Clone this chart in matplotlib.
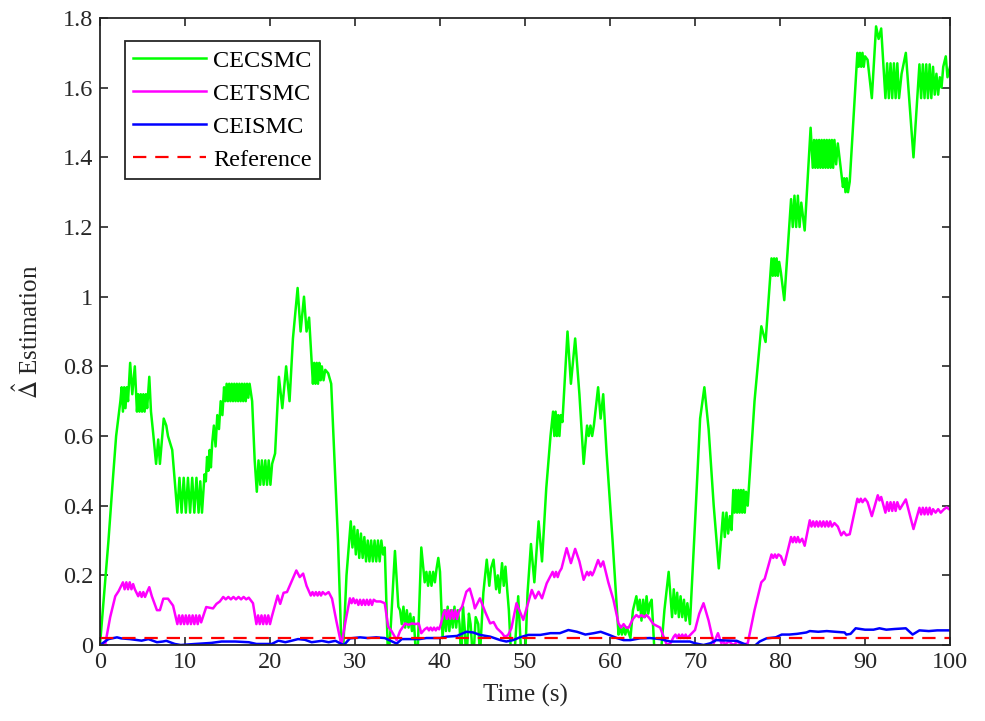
import matplotlib
matplotlib.use("Agg")
import matplotlib.pyplot as plt

plt.rcParams['font.family'] = ['Liberation Serif', 'DejaVu Serif']
plt.rcParams['mathtext.fontset'] = 'stix'

# (time, value)
cecsmc = [
    (0, 0), (0.5, 0.15), (1.0, 0.30), (1.5, 0.47), (1.9, 0.60), (2.2, 0.66), (2.4, 0.70),
    (2.55, 0.74), (2.7, 0.67), (2.85, 0.74), (3.0, 0.68), (3.15, 0.74), (3.3, 0.70),
    (3.55, 0.81), (3.8, 0.72), (4.1, 0.80), (4.35, 0.67),
    (4.5, 0.72), (4.65, 0.67), (4.8, 0.72), (4.95, 0.67), (5.1, 0.72), (5.25, 0.67), (5.4, 0.72), (5.55, 0.68),
    (5.8, 0.77), (6.0, 0.67), (6.25, 0.61), (6.6, 0.52), (6.85, 0.59), (7.05, 0.52), (7.5, 0.65),
    (7.8, 0.63), (8.0, 0.60), (8.5, 0.56), (8.8, 0.47), (9.1, 0.38),
    (9.35, 0.48), (9.6, 0.38), (9.85, 0.48), (10.1, 0.38), (10.35, 0.48), (10.6, 0.38), (10.85, 0.48),
    (11.1, 0.38), (11.35, 0.48), (11.6, 0.38), (11.8, 0.47), (12.0, 0.38),
    (12.3, 0.49), (12.45, 0.47), (12.6, 0.54), (12.75, 0.50), (12.9, 0.56), (13.05, 0.51), (13.2, 0.58),
    (13.4, 0.63), (13.6, 0.57), (13.8, 0.66), (14.0, 0.62), (14.2, 0.70), (14.4, 0.66), (14.6, 0.74),
    (14.75, 0.70), (14.9, 0.75), (15.05, 0.70), (15.2, 0.75), (15.35, 0.70), (15.5, 0.75), (15.65, 0.70),
    (15.8, 0.75), (15.95, 0.70), (16.1, 0.75), (16.25, 0.70), (16.4, 0.75), (16.55, 0.70), (16.7, 0.75),
    (16.85, 0.70), (17.0, 0.75), (17.15, 0.70), (17.3, 0.75), (17.45, 0.71), (17.6, 0.75),
    (17.9, 0.70), (18.2, 0.53), (18.45, 0.44),
    (18.65, 0.53), (18.85, 0.46), (19.05, 0.53), (19.25, 0.46), (19.45, 0.53), (19.65, 0.46),
    (19.85, 0.53), (20.05, 0.46), (20.25, 0.52),
    (20.6, 0.55), (21.05, 0.77), (21.45, 0.68), (21.9, 0.80), (22.3, 0.70), (22.7, 0.88),
    (23.25, 1.025), (23.6, 0.90), (24.0, 1.00), (24.3, 0.90), (24.6, 0.94), (25.05, 0.75),
    (25.2, 0.81), (25.35, 0.75), (25.5, 0.81), (25.65, 0.75), (25.8, 0.81), (25.95, 0.76),
    (26.1, 0.80), (26.3, 0.76), (26.5, 0.79), (26.85, 0.78), (27.2, 0.75),
    (28.0, 0.30), (28.4, 0.0), (28.6, -0.02), (29.0, 0.20), (29.5, 0.355),
    (29.7, 0.28), (29.9, 0.34), (30.1, 0.26), (30.3, 0.33), (30.5, 0.25), (30.7, 0.32), (30.9, 0.25),
    (31.1, 0.31), (31.3, 0.24), (31.5, 0.30), (31.7, 0.24), (31.9, 0.30), (32.1, 0.24), (32.3, 0.30),
    (32.5, 0.24), (32.7, 0.30), (32.9, 0.24), (33.1, 0.30), (33.3, 0.26), (33.5, 0.28),
    (33.9, -0.05), (34.2, 0.05), (34.7, 0.27), (35.1, 0.11), (35.3, 0.10), (35.5, 0.06), (35.7, 0.11),
    (35.9, 0.05), (36.1, 0.10), (36.3, 0.05), (36.5, 0.09), (36.7, 0.04), (36.9, 0.08), (37.1, 0.0),
    (37.4, 0.0), (37.8, 0.28), (38.2, 0.18), (38.4, 0.21), (38.6, 0.17), (38.8, 0.21), (39.0, 0.17),
    (39.2, 0.21), (39.4, 0.18), (39.6, 0.22), (39.8, 0.25), (40.0, 0.21), (40.3, 0.02),
    (40.5, 0.10), (40.7, 0.04), (40.9, 0.11), (41.1, 0.04), (41.3, 0.10), (41.5, 0.05), (41.7, 0.11),
    (41.9, 0.05), (42.1, 0.10), (42.3, 0.06), (42.5, -0.05), (42.7, 0.11), (42.9, 0.05), (43.1, -0.05),
    (43.4, 0.09), (43.6, 0.06), (43.9, -0.05), (44.2, 0.08), (44.5, 0.06), (44.7, -0.03),
    (45.1, 0.15), (45.5, 0.245), (45.8, 0.17), (46.0, 0.22), (46.3, 0.245), (46.6, 0.16), (46.8, 0.20),
    (47.0, 0.15), (47.3, 0.235), (47.5, 0.17), (47.7, 0.225), (47.9, 0.16), (48.1, 0.10),
    (48.4, -0.05), (48.7, -0.05), (49.2, 0.14), (49.6, -0.05), (50.0, -0.05), (50.3, 0.15),
    (50.7, 0.29), (51.1, 0.18), (51.6, 0.355), (52.0, 0.24), (52.5, 0.45), (53.0, 0.60),
    (53.3, 0.67), (53.45, 0.60), (53.6, 0.67), (53.75, 0.60), (53.9, 0.66), (54.05, 0.60), (54.2, 0.66),
    (54.4, 0.64), (55.0, 0.90), (55.4, 0.75), (55.9, 0.88), (56.4, 0.72), (56.9, 0.52), (57.3, 0.63),
    (57.5, 0.60), (57.7, 0.63), (57.9, 0.60), (58.1, 0.63), (58.6, 0.74), (58.9, 0.65), (59.2, 0.72),
    (59.6, 0.55), (60.3, 0.30), (61.0, 0.03), (61.2, 0.05), (61.4, 0.03), (61.6, 0.05), (61.8, 0.03),
    (62.0, 0.05), (62.4, 0.02), (62.7, 0.10), (63.1, 0.14), (63.3, 0.10), (63.5, 0.13), (63.7, 0.07),
    (63.9, 0.13), (64.1, 0.08), (64.3, 0.14), (64.5, 0.09), (64.7, 0.12), (64.9, 0.13),
    (65.3, -0.05), (65.9, -0.05), (66.4, 0.10), (66.9, 0.21), (67.3, 0.08), (67.5, 0.16),
    (67.7, 0.09), (67.9, 0.15), (68.1, 0.08), (68.3, 0.14), (68.5, 0.08), (68.7, 0.13), (68.9, 0.07),
    (69.1, 0.12), (69.4, 0.06), (70.0, 0.35), (70.6, 0.65), (71.1, 0.74), (71.6, 0.62), (72.2, 0.40),
    (72.8, 0.22), (73.3, 0.38), (73.5, 0.31), (73.7, 0.38), (73.9, 0.32), (74.1, 0.37), (74.3, 0.33),
    (74.5, 0.445), (74.65, 0.38), (74.8, 0.445), (74.95, 0.38), (75.1, 0.445), (75.25, 0.38),
    (75.4, 0.445), (75.55, 0.38), (75.7, 0.445), (75.85, 0.38), (76.0, 0.44), (76.2, 0.40),
    (77.0, 0.70), (77.8, 0.915), (78.3, 0.87), (79.0, 1.11), (79.15, 1.06), (79.3, 1.11), (79.45, 1.06),
    (79.6, 1.11), (79.75, 1.06), (79.9, 1.10), (80.1, 1.07), (80.5, 0.99), (81.3, 1.28), (81.5, 1.20),
    (81.7, 1.29), (81.9, 1.20), (82.1, 1.29), (82.3, 1.20), (82.5, 1.27), (82.9, 1.19), (83.6, 1.485),
    (83.85, 1.37), (84.0, 1.45), (84.15, 1.37), (84.3, 1.45), (84.45, 1.37), (84.6, 1.45), (84.75, 1.37),
    (84.9, 1.45), (85.05, 1.37), (85.2, 1.45), (85.35, 1.37), (85.5, 1.45), (85.65, 1.37), (85.8, 1.45),
    (85.95, 1.37), (86.1, 1.45), (86.25, 1.37), (86.4, 1.45), (86.6, 1.38), (86.8, 1.44),
    (87.4, 1.315), (87.55, 1.34), (87.7, 1.30), (87.85, 1.34), (88.0, 1.30), (88.2, 1.33),
    (89.1, 1.70), (89.25, 1.66), (89.4, 1.70), (89.55, 1.66), (89.7, 1.70), (89.85, 1.66), (90.0, 1.69),
    (90.3, 1.68), (90.8, 1.57), (91.3, 1.776), (91.6, 1.74), (91.9, 1.77), (92.4, 1.57), (92.6, 1.67),
    (92.8, 1.57), (93.0, 1.67), (93.2, 1.57), (93.4, 1.67), (93.6, 1.57), (93.8, 1.67), (94.0, 1.57),
    (94.3, 1.64), (94.8, 1.70), (95.7, 1.40), (96.4, 1.667), (96.6, 1.57), (96.8, 1.667), (97.0, 1.57),
    (97.2, 1.667), (97.4, 1.57), (97.6, 1.667), (97.8, 1.57), (98.0, 1.66), (98.2, 1.58), (98.4, 1.64),
    (98.6, 1.58), (98.8, 1.63), (99.0, 1.60), (99.2, 1.66), (99.5, 1.69), (99.7, 1.63), (100, 1.66),
]

cetsmc = [
    (0, 0), (0.6, 0.0), (1.2, 0.08), (1.8, 0.14), (2.2, 0.155), (2.5, 0.17), (2.7, 0.18), (2.9, 0.16),
    (3.1, 0.18), (3.3, 0.16), (3.5, 0.18), (3.7, 0.16), (3.9, 0.175), (4.1, 0.16), (4.3, 0.15),
    (4.5, 0.14), (4.7, 0.152), (4.9, 0.138), (5.1, 0.152), (5.3, 0.138), (5.5, 0.15), (5.8, 0.166),
    (6.1, 0.14), (6.4, 0.12), (6.7, 0.10), (7.05, 0.10), (7.45, 0.133), (8.0, 0.133), (8.6, 0.113),
    (9.1, 0.06), (9.3, 0.085), (9.5, 0.06), (9.7, 0.085), (9.9, 0.06), (10.1, 0.085), (10.3, 0.06),
    (10.5, 0.085), (10.7, 0.06), (10.9, 0.085), (11.1, 0.06), (11.3, 0.085), (11.5, 0.06), (11.7, 0.085),
    (11.9, 0.065), (12.5, 0.109), (13.3, 0.105), (13.7, 0.118), (14.1, 0.125), (14.5, 0.138),
    (14.8, 0.131), (15.1, 0.138), (15.4, 0.131), (15.7, 0.138), (16.0, 0.131), (16.3, 0.138),
    (16.6, 0.131), (16.9, 0.138), (17.2, 0.131), (17.5, 0.136), (18.0, 0.12), (18.4, 0.06),
    (18.6, 0.085), (18.8, 0.06), (19.0, 0.085), (19.2, 0.06), (19.4, 0.085), (19.6, 0.06), (19.8, 0.085),
    (20.0, 0.06), (20.2, 0.08), (20.9, 0.142), (21.2, 0.118), (21.6, 0.15), (22.0, 0.152), (22.5, 0.18),
    (23.1, 0.214), (23.5, 0.195), (23.9, 0.205), (24.3, 0.17), (24.8, 0.142), (25.0, 0.152),
    (25.2, 0.142), (25.4, 0.152), (25.6, 0.142), (25.8, 0.152), (26.0, 0.142), (26.2, 0.152),
    (26.5, 0.145), (26.9, 0.152), (27.3, 0.133), (27.8, 0.07), (28.4, 0.0), (28.9, 0.07),
    (29.4, 0.134), (29.6, 0.12), (29.8, 0.134), (30.0, 0.12), (30.2, 0.13), (30.4, 0.115), (30.6, 0.13),
    (30.8, 0.115), (31.0, 0.13), (31.2, 0.115), (31.4, 0.13), (31.6, 0.115), (31.8, 0.13), (32.0, 0.115),
    (32.2, 0.13), (32.5, 0.125), (33.0, 0.125), (33.5, 0.12), (33.9, 0.053), (34.3, 0.04), (34.9, 0.014),
    (35.3, 0.04), (35.9, 0.062), (36.3, 0.058), (36.7, 0.062), (37.1, 0.06), (37.5, 0.062), (37.8, 0.034),
    (38.2, 0.045), (38.5, 0.05), (38.7, 0.042), (38.9, 0.05), (39.1, 0.042), (39.3, 0.05), (39.5, 0.042),
    (39.7, 0.05), (39.9, 0.045), (40.1, 0.06), (40.4, 0.09), (40.6, 0.10), (40.8, 0.075), (41.0, 0.10),
    (41.2, 0.075), (41.4, 0.10), (41.6, 0.075), (41.8, 0.10), (42.0, 0.075), (42.2, 0.095), (42.6, 0.11),
    (43.1, 0.153), (43.5, 0.162), (43.9, 0.128), (44.1, 0.105), (44.7, 0.134), (45.3, 0.096),
    (45.9, 0.062), (46.3, 0.066), (46.7, 0.048), (47.3, 0.034), (47.6, 0.024), (48.0, 0.028),
    (48.4, 0.048), (49.0, 0.12), (49.8, 0.072), (50.4, 0.124), (50.8, 0.158), (51.2, 0.134),
    (51.6, 0.153), (52.0, 0.134), (52.55, 0.177), (53.25, 0.21), (53.45, 0.195), (53.65, 0.21),
    (53.85, 0.195), (54.05, 0.21), (54.3, 0.22), (54.9, 0.278), (55.4, 0.235), (55.9, 0.276),
    (56.4, 0.24), (56.9, 0.187), (57.3, 0.21), (57.5, 0.20), (57.7, 0.21), (57.9, 0.20), (58.1, 0.21),
    (58.6, 0.244), (58.9, 0.225), (59.2, 0.24), (59.8, 0.18), (60.4, 0.13), (61.0, 0.062), (61.3, 0.05),
    (61.6, 0.06), (61.9, 0.05), (62.2, 0.05), (62.7, 0.075), (63.1, 0.086), (63.4, 0.08), (63.7, 0.086),
    (64.0, 0.08), (64.3, 0.086), (64.6, 0.078), (65.1, 0.06), (65.9, 0.05), (66.3, 0.024), (66.7, 0.0),
    (67.1, 0.005), (67.5, 0.024), (67.7, 0.03), (67.9, 0.02), (68.1, 0.03), (68.3, 0.02), (68.5, 0.03),
    (68.7, 0.02), (68.9, 0.03), (69.1, 0.02), (69.4, 0.028), (70.0, 0.043), (70.5, 0.09), (71.0, 0.12),
    (71.6, 0.07), (72.2, 0.005), (72.7, 0.034), (73.1, 0.005), (73.3, 0.012), (73.5, 0.002),
    (74.0, 0.01), (74.5, 0.0), (75.0, 0.01), (75.5, 0.0), (76.2, 0.005), (77.0, 0.10), (77.8, 0.18),
    (78.2, 0.19), (79.0, 0.26), (79.2, 0.25), (79.4, 0.26), (79.6, 0.25), (79.8, 0.26), (80.1, 0.255),
    (80.5, 0.23), (81.3, 0.31), (81.5, 0.295), (81.7, 0.31), (81.9, 0.295), (82.1, 0.31), (82.3, 0.295),
    (82.6, 0.305), (82.9, 0.285), (83.5, 0.358), (83.7, 0.34), (83.9, 0.355), (84.1, 0.34), (84.3, 0.355),
    (84.5, 0.34), (84.7, 0.355), (84.9, 0.34), (85.1, 0.355), (85.3, 0.34), (85.5, 0.355), (85.7, 0.34),
    (85.9, 0.355), (86.1, 0.34), (86.4, 0.35), (86.8, 0.34), (87.2, 0.315), (87.5, 0.325), (87.8, 0.315),
    (88.2, 0.318), (89.1, 0.42), (89.3, 0.41), (89.5, 0.42), (89.7, 0.41), (90.0, 0.42), (90.3, 0.41),
    (90.8, 0.37), (91.5, 0.43), (91.7, 0.415), (91.9, 0.425), (92.4, 0.38), (92.6, 0.41), (92.8, 0.385),
    (93.0, 0.41), (93.2, 0.385), (93.4, 0.41), (93.6, 0.385), (93.8, 0.41), (94.1, 0.39), (94.8, 0.418),
    (95.7, 0.333), (96.4, 0.394), (96.6, 0.375), (96.8, 0.394), (97.0, 0.375), (97.2, 0.394),
    (97.4, 0.375), (97.6, 0.394), (97.8, 0.375), (98.0, 0.39), (98.3, 0.38), (98.6, 0.39), (98.9, 0.38),
    (99.3, 0.39), (99.6, 0.395), (100, 0.388),
]

ceismc = [
    (0, 0), (1.0, 0.017), (2.0, 0.022), (2.5, 0.019), (3.5, 0.017), (4.9, 0.0125), (5.7, 0.017),
    (6.7, 0.008), (7.4, 0.01), (7.8, 0.012), (8.8, 0.003), (9.5, 0.0), (11.2, 0.003), (13.1, 0.006),
    (14.3, 0.01), (15.9, 0.01), (17.5, 0.008), (18.4, 0.003), (20.2, 0.003), (21.0, 0.0125),
    (21.8, 0.008), (22.5, 0.012), (23.3, 0.017), (24.1, 0.015), (24.9, 0.008), (26.1, 0.012),
    (26.9, 0.008), (27.7, 0.012), (28.4, 0.003), (28.7, 0.0), (29.4, 0.019), (30.6, 0.022),
    (31.5, 0.02), (32.5, 0.022), (33.5, 0.02), (34.2, 0.012), (34.9, 0.004), (35.5, 0.017),
    (37.6, 0.017), (38.4, 0.02), (40.0, 0.02), (40.8, 0.024), (42.0, 0.026), (43.1, 0.038),
    (43.9, 0.036), (44.7, 0.029), (45.9, 0.024), (47.1, 0.014), (47.8, 0.01), (48.6, 0.014),
    (49.4, 0.022), (50.4, 0.029), (51.8, 0.029), (53.0, 0.034), (54.1, 0.034), (55.1, 0.043),
    (56.1, 0.038), (57.1, 0.03), (58.1, 0.034), (58.9, 0.038), (59.8, 0.03), (60.8, 0.02),
    (61.6, 0.014), (62.4, 0.014), (63.5, 0.019), (64.7, 0.02), (65.9, 0.017), (67.1, 0.01),
    (68.2, 0.01), (69.4, 0.01), (70.0, 0.005), (71.0, 0.0), (71.8, 0.005), (72.5, 0.014),
    (73.7, 0.013), (74.9, 0.012), (76.1, 0.0), (76.9, -0.005), (77.6, 0.01), (78.4, 0.019),
    (79.5, 0.022), (80.2, 0.03), (81.1, 0.03), (82.0, 0.032), (83.1, 0.036), (83.5, 0.04),
    (84.5, 0.038), (85.5, 0.04), (86.5, 0.038), (87.6, 0.036), (87.8, 0.03), (88.3, 0.032),
    (88.9, 0.048), (90.0, 0.044), (91.0, 0.044), (91.7, 0.048), (92.5, 0.044), (93.5, 0.046),
    (94.8, 0.048), (95.6, 0.03), (96.4, 0.042), (97.5, 0.04), (98.5, 0.042), (100, 0.042),
]

reference_level = 0.02
t_range = [0, 100]


fig = plt.figure(figsize=(9.85, 7.21), dpi=100)
ax = fig.add_axes([0.1015, 0.1054, 0.863, 0.8696])

for pts, col, lab in [(cecsmc, '#00ff00', 'CECSMC'),
                      (cetsmc, '#ff00ff', 'CETSMC'),
                      (ceismc, '#0000ff', 'CEISMC')]:
    t, y = zip(*pts)
    ax.plot(t, y, color=col, lw=1.8, label=lab)

ax.plot(t_range, [reference_level, reference_level], color='#ff0000', lw=1.6,
        linestyle=(0, (6, 4)), label='Reference')

ax.set_xlim(0, 100)
ax.set_ylim(0, 1.8)
ax.set_xticks(range(0, 101, 10))
ax.set_yticks([0, 0.2, 0.4, 0.6, 0.8, 1, 1.2, 1.4, 1.6, 1.8])
ax.set_yticklabels(['0', '0.2', '0.4', '0.6', '0.8', '1', '1.2', '1.4', '1.6', '1.8'])
ax.tick_params(direction='in', top=True, right=True, length=6, width=1.2,
               labelsize=17.5, colors='#262626', pad=5)
for s in ax.spines.values():
    s.set_linewidth(1.3)
    s.set_color('#262626')

ax.set_xlabel('Time (s)', fontsize=18, color='#262626', labelpad=8)
ax.set_ylabel(r'$\hat{\Delta}$ Estimation', fontsize=18, color='#262626', labelpad=14)

leg = ax.legend(loc='upper left', bbox_to_anchor=(0.029, 0.963), fontsize=17.5,
                fancybox=False, framealpha=1, edgecolor='#262626',
                handlelength=3.0, handletextpad=0.3, labelspacing=0.45,
                borderpad=0.35, borderaxespad=0)
leg.get_frame().set_linewidth(1.3)

fig.savefig('out.png', dpi=100)
